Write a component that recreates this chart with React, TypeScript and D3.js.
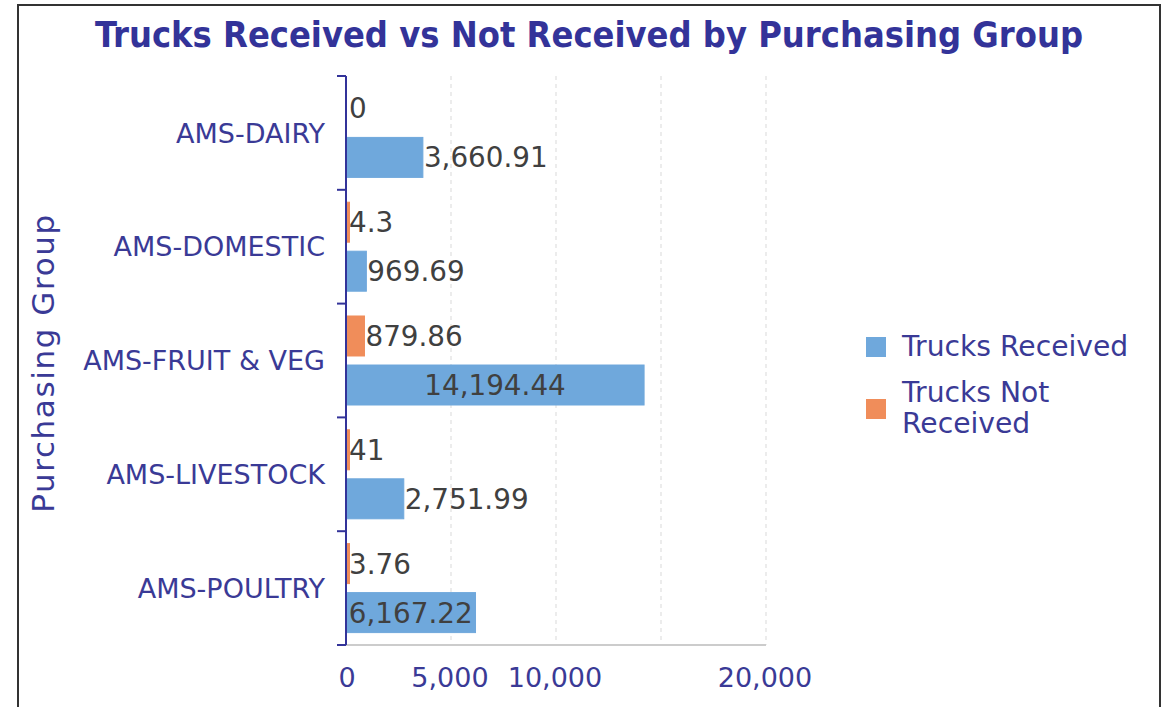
import React from "react";
import * as d3 from "d3";

const categories = ["AMS-DAIRY", "AMS-DOMESTIC", "AMS-FRUIT & VEG", "AMS-LIVESTOCK", "AMS-POULTRY"];
const received = [3660.91, 969.69, 14194.44, 2751.99, 6167.22];
const notReceived = [0, 4.3, 879.86, 41, 3.76];
const seriesNames = ["Trucks Not Received", "Trucks Received"];
const legendNames = ["Trucks Received", "Trucks Not Received"];
const xTickValues = [0, 5000, 10000, 20000];
const gridValues = [5000, 10000, 15000, 20000];

const W = 1170;
const H = 707;
const NAVY = "#333399";
const LABEL = "#3a3a96";
const BLUE = "#6fa8dc";
const ORANGE = "#f08d5a";
const VALUE = "#404040";
const FONT = "'DejaVu Sans', Verdana, sans-serif";

const valueFontSize = 27.8;
function textWidth(s: string, fs: number) {
  let w = 0;
  for (const ch of s) {
    if (ch === "," || ch === ".") w += 0.318;
    else w += 0.636;
  }
  return w * fs;
}

export default function App() {
  const x = d3.scaleLinear().domain([0, 20000]).range([346, 766]);
  const y0 = d3.scaleBand<string>().domain(categories).range([76, 645]);
  const y1 = d3
    .scaleBand<string>()
    .domain(seriesNames)
    .range([0, y0.bandwidth()])
    .paddingInner(0.184)
    .paddingOuter(0.253);
  const fmt = d3.format(",.2~f");
  const fmtR = d3.format(",.2f");
  const fmtTick = d3.format(",");

  const rows = categories.map((c, i) => ({
    cat: c,
    vals: [
      { s: seriesNames[0], v: notReceived[i], color: ORANGE, label: fmt(notReceived[i]) },
      { s: seriesNames[1], v: received[i], color: BLUE, label: fmtR(received[i]) },
    ],
  }));

  const bandEdges = [...categories.map((c) => y0(c) as number), 645];

  return (
    <svg width={W} height={H} style={{ display: "block", position: "absolute", left: 0, top: 0 }}>
      <rect x={0} y={0} width={W} height={H} fill="#ffffff" />
      {/* frame */}
      <path d={`M18,${H + 5} L18,5 L1160,5 L1160,${H + 5}`} fill="none" stroke="#333333" strokeWidth={2} />

      {/* title */}
      <text
        x={589}
        y={47}
        textAnchor="middle"
        fontFamily="'DejaVu Sans Condensed', 'DejaVu Sans', sans-serif"
        fontWeight="bold"
        fontStretch="condensed"
        fontSize={35.9}
        fill={NAVY}
      >
        Trucks Received vs Not Received by Purchasing Group
      </text>

      {/* grid */}
      {gridValues.map((g) => (
        <line
          key={g}
          x1={x(g)}
          x2={x(g)}
          y1={76}
          y2={645}
          stroke="#d9d9d9"
          strokeWidth={1}
          strokeDasharray="4,4"
        />
      ))}
      {/* x baseline */}
      <line x1={346} x2={x(20000)} y1={645} y2={645} stroke="#cccccc" strokeWidth={2} />

      {/* bars */}
      {rows.map((r) =>
        r.vals.map((d) => {
          const by = (y0(r.cat) as number) + (y1(d.s) as number);
          const bh = y1.bandwidth();
          const bw = x(d.v) - x(0);
          return d.v > 0 ? (
            <rect
              key={r.cat + d.s}
              x={x(0)}
              y={by}
              width={Math.max(bw, 3.5)}
              height={bh}
              fill={d.color}
              stroke={d.color}
              strokeWidth={1}
            />
          ) : null;
        })
      )}

      {/* value labels */}
      {rows.map((r) =>
        r.vals.map((d) => {
          const by = (y0(r.cat) as number) + (y1(d.s) as number);
          const bh = y1.bandwidth();
          const bw = x(d.v) - x(0);
          const tw = textWidth(d.label, valueFontSize);
          const inside = tw + 4 < bw;
          return (
            <text
              key={"l" + r.cat + d.s}
              x={inside ? x(0) + bw / 2 : Math.max(x(d.v), x(0) + 2) + 1}
              y={by + bh / 2}
              dy="0.36em"
              textAnchor={inside ? "middle" : "start"}
              fontFamily={FONT}
              fontSize={valueFontSize}
              fill={VALUE}
            >
              {d.label}
            </text>
          );
        })
      )}

      {/* y axis */}
      <line x1={346} x2={346} y1={76} y2={645} stroke={NAVY} strokeWidth={2} />
      {bandEdges.map((e, i) => (
        <line key={i} x1={337} x2={346} y1={e} y2={e} stroke={NAVY} strokeWidth={2} />
      ))}
      {categories.map((c) => (
        <text
          key={c}
          x={325}
          y={(y0(c) as number) + y0.bandwidth() / 2}
          dy="0.36em"
          textAnchor="end"
          fontFamily={FONT}
          fontSize={27}
          fill={LABEL}
        >
          {c}
        </text>
      ))}

      {/* x tick labels */}
      {xTickValues.map((t) => (
        <text
          key={t}
          x={x(t) + (t === 0 ? 1 : -1)}
          y={687}
          textAnchor="middle"
          fontFamily={FONT}
          fontSize={27}
          fill={LABEL}
        >
          {fmtTick(t)}
        </text>
      ))}

      {/* y axis title */}
      <text
        transform="translate(54,363) rotate(-90)"
        textAnchor="middle"
        fontFamily={FONT}
        fontSize={31}
        letterSpacing={1.6}
        fill={LABEL}
      >
        Purchasing Group
      </text>

      {/* legend */}
      <rect x={866} y={337} width={20} height={20} fill={BLUE} />
      <text x={902} y={356} fontFamily={FONT} fontSize={28.2} fill={LABEL}>
        {legendNames[0]}
      </text>
      <rect x={866} y={399} width={20} height={20} fill={ORANGE} />
      <text x={902} y={402} fontFamily={FONT} fontSize={28.2} fill={LABEL}>
        <tspan x={902}>Trucks Not</tspan>
        <tspan x={902} dy={31}>
          Received
        </tspan>
      </text>
    </svg>
  );
}
